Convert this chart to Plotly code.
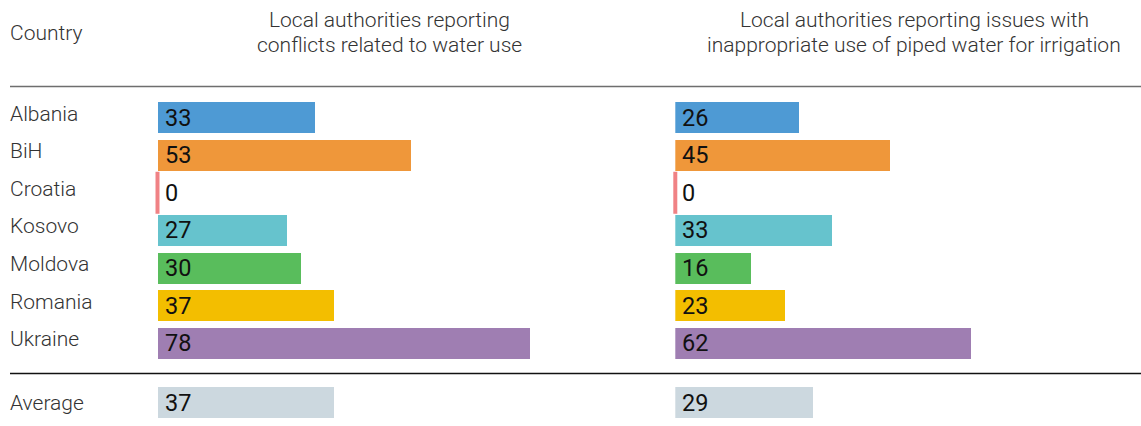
import plotly.graph_objects as go

countries = ["Albania", "BiH", "Croatia", "Kosovo", "Moldova", "Romania", "Ukraine"]
conflicts = [33, 53, 0, 27, 30, 37, 78]
piped_irrigation = [26, 45, 0, 33, 16, 23, 62]
colors = ["#4e9ad4", "#ef973a", "#f08285", "#66c3cd", "#59bd5c", "#f3be00", "#9f7eb2"]
average_label = ["Average"]
avg_conflicts = [37]
avg_irrigation = [29]
avg_color = "#ccd8df"
country_header = "Country"
header_conflicts = ["Local authorities reporting", "conflicts related to water use"]
header_irrigation = ["Local authorities reporting issues with",
                     "inappropriate use of piped water for irrigation"]

W, H = 1141, 426
FONT = "Roboto"
LIGHT = dict(family=FONT, size=21, color="#333333", weight=300)
VAL = dict(family=FONT, size=23.5, color="#111111")

fig = go.Figure()

bar_w = 0.824
for vals, xa in [(conflicts, "x"), (piped_irrigation, "x2")]:
    fig.add_trace(go.Bar(
        x=vals, y=countries, orientation="h", xaxis=xa, yaxis="y",
        marker=dict(color=colors, line=dict(width=0)), width=bar_w,
        hoverinfo="x+y", showlegend=False,
    ))
    # thin tick for zero-valued bars
    zx = [v for v in vals if v == 0]
    zy = [c for c, v in zip(countries, vals) if v == 0]
    zc = [col for col, v in zip(colors, vals) if v == 0]
    fig.add_trace(go.Scatter(
        x=zx, y=zy, xaxis=xa, yaxis="y", mode="markers",
        marker=dict(symbol="line-ns", size=30, line=dict(width=4, color=zc)),
        showlegend=False, hoverinfo="skip", cliponaxis=False,
    ))

for vals, xa in [(avg_conflicts, "x"), (avg_irrigation, "x2")]:
    fig.add_trace(go.Bar(
        x=vals, y=average_label, orientation="h", xaxis=xa, yaxis="y2",
        marker=dict(color=avg_color, line=dict(width=0)), width=bar_w,
        hoverinfo="x+y", showlegend=False,
    ))

ann = []
for vals, xa in [(conflicts, "x"), (piped_irrigation, "x2")]:
    for c, v in zip(countries, vals):
        ann.append(dict(x=0, y=c, xref=xa, yref="y", text=str(v), showarrow=False,
                        xanchor="left", yanchor="middle", xshift=5, font=VAL))
for vals, xa in [(avg_conflicts, "x"), (avg_irrigation, "x2")]:
    for c, v in zip(average_label, vals):
        ann.append(dict(x=0, y=c, xref=xa, yref="y2", text=str(v), showarrow=False,
                        xanchor="left", yanchor="middle", xshift=5, font=VAL))

for c in countries:
    ann.append(dict(x=8 / W, y=c, xref="paper", yref="y", text=c, showarrow=False,
                    xanchor="left", yanchor="middle", yshift=4, font=LIGHT))
for c in average_label:
    ann.append(dict(x=8 / W, y=c, xref="paper", yref="y2", text=c, showarrow=False,
                    xanchor="left", yanchor="middle", yshift=0, font=LIGHT))

ann.append(dict(x=8 / W, y=1 - 33 / H, xref="paper", yref="paper", text=country_header,
                showarrow=False, xanchor="left", yanchor="middle", font=LIGHT))
for lines, cx in [(header_conflicts, 389), (header_irrigation, 914)]:
    for line, ly in zip(lines, [20, 45]):
        ann.append(dict(x=cx / W, y=1 - ly / H, xref="paper", yref="paper", text=line,
                        showarrow=False, xanchor="center", yanchor="middle", font=LIGHT))

shapes = [
    dict(type="line", xref="paper", yref="paper", x0=10 / W, x1=1, y0=1 - 86.5 / H, y1=1 - 86.5 / H,
         line=dict(color="#6e6e6e", width=1.5)),
    dict(type="line", xref="paper", yref="paper", x0=10 / W, x1=1, y0=1 - 373.5 / H, y1=1 - 373.5 / H,
         line=dict(color="#111111", width=1.5)),
]

scale = 4.77
x1_start = 157.5
x2_start = 675.3
hidden = dict(showgrid=False, zeroline=False, showticklabels=False, showline=False, ticks="", fixedrange=True)

fig.update_layout(
    width=W, height=H, margin=dict(l=0, r=0, t=0, b=0),
    paper_bgcolor="white", plot_bgcolor="white",
    font=dict(family=FONT),
    xaxis=dict(domain=[x1_start / W, (x1_start + 100 * scale) / W], range=[0, 100], anchor="y", **hidden),
    xaxis2=dict(domain=[x2_start / W, 1], range=[0, (W - x2_start) / scale], anchor="y", **hidden),
    yaxis=dict(domain=[1 - 362.1 / H, 1 - 98.7 / H], range=[6.5, -0.5], type="category",
               categoryorder="array", categoryarray=countries, anchor="x", **hidden),
    yaxis2=dict(domain=[1 - 421.3 / H, 1 - 383.7 / H], range=[0.5, -0.5], type="category",
                anchor="x", **hidden),
    annotations=ann, shapes=shapes, bargap=0,
)

fig.write_html("out.html", config={"displayModeBar": False},
               post_script="document.body.style.margin='0';document.body.style.overflow='hidden';")
